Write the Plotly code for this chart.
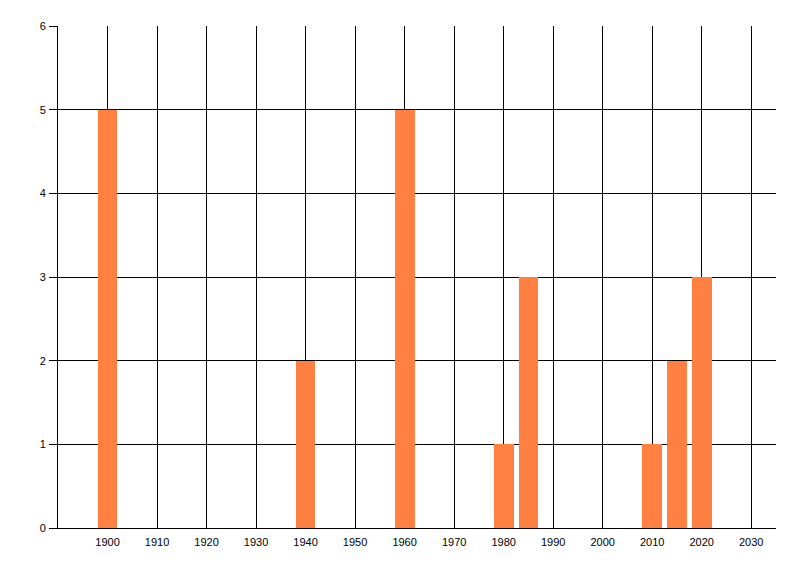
import plotly.graph_objects as go

years = [1900, 1940, 1960, 1980, 1985, 2010, 2015, 2020]
counts = [5, 2, 5, 1, 3, 1, 2, 3]
x_ticks = list(range(1900, 2031, 10))
y_ticks = list(range(0, 7))

fig = go.Figure(go.Bar(
    x=years, y=counts, width=4,
    marker=dict(color="#ff8040", line=dict(width=0)),
))

fig.update_layout(
    width=784, height=560,
    margin=dict(l=50, r=16, t=18, b=40),
    paper_bgcolor="white", plot_bgcolor="white",
    showlegend=False,
    font=dict(family="Liberation Sans, Arial, sans-serif", size=11, color="black"),
    xaxis=dict(
        range=[1890, 2035], tickvals=x_ticks, ticktext=[str(v) for v in x_ticks],
        showgrid=True, gridcolor="black", gridwidth=1,
        showline=True, linecolor="black", linewidth=1,
        ticks="", zeroline=False, ticklabelstandoff=4,
    ),
    yaxis=dict(
        range=[0, 6], tickvals=y_ticks,
        showgrid=True, gridcolor="black", gridwidth=1,
        showline=True, linecolor="black", linewidth=1,
        ticks="outside", ticklen=8, tickcolor="black", tickwidth=1,
        zeroline=False, ticklabelstandoff=1,
    ),
    bargap=0,
)

fig.write_html("out.html")
